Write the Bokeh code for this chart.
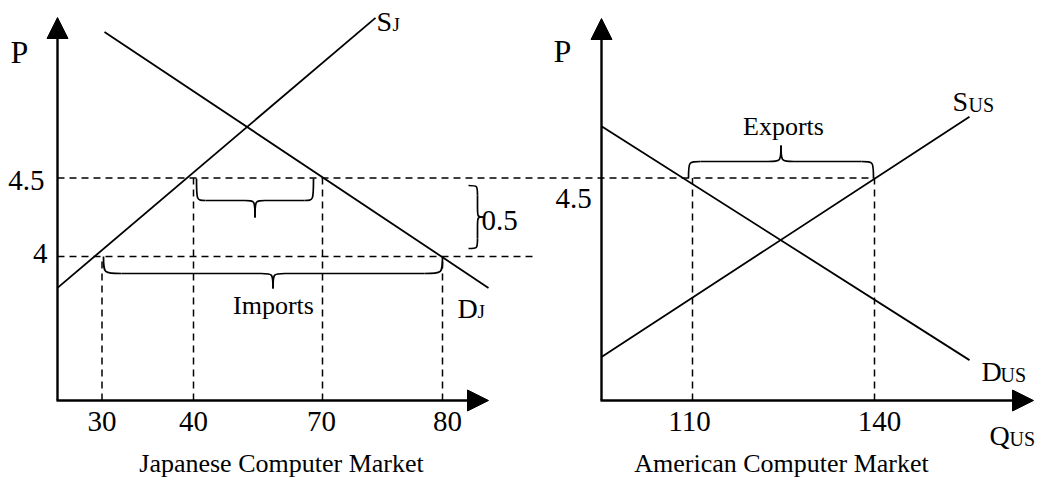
from bokeh.plotting import figure
from bokeh.models import Range1d, Arrow, NormalHead
from bokeh.embed import file_html
from bokeh.resources import INLINE
from bokeh.core.properties import value

# ---------------- data ----------------
jp_quantity_ticks = [30, 40, 70, 80]            # Q_S at 4, Q_S at 4.5, Q_D at 4.5, Q_D at 4
jp_quantity_read_price = [4.0, 4.5, 4.5, 4.0]   # price at which each quantity is read
jp_price_ticks = [4.0, 4.5]
jp_price_labels = ["4", "4.5"]
us_quantity_ticks = [110, 140]                  # Q_D at 4.5, Q_S at 4.5
us_quantity_read_price = [4.5, 4.5]
us_price_ticks = [4.5]
us_price_labels = ["4.5"]
world_price = 4.5
jp_low_price = 4.0
price_gap_label = "0.5"

jp_supply_p = [3.80, 5.52]
jp_demand_p = [5.43, 3.80]
us_supply_p = [3.36, 4.89]
us_demand_p = [4.83, 3.34]

titles = ["Japanese Computer Market", "American Computer Market"]

# ---------------- layout (schematic, not to scale) ----------------
FONT = value("Liberation Serif")
PX_PER_PRICE = 157.0
ROW_AT_45 = 177.5
TEXT_SHIFT = 0.4   # em; compensates the svg baseline placement


def yp(row):
    return 4.5 - (row - ROW_AT_45) / PX_PER_PRICE


def ty(row, size):
    return yp(row - TEXT_SHIFT * size)


JP_QX = [101.5, 193, 322, 442]
US_QX = [692, 874]
JP_AXIS_X, US_AXIS_X = 57, 601
AXIS_ROW = 400
jp_supply_x = [57, 375]
jp_demand_x = [104, 488]
us_supply_x = [601, 969]
us_demand_x = [601, 969]

p = figure(width=1036, height=480, x_range=Range1d(0, 1036),
           y_range=Range1d(yp(480), yp(0)), output_backend="svg",
           toolbar_location=None, min_border=0, x_axis_type=None,
           y_axis_type=None)
p.grid.visible = False
p.outline_line_color = None
p.background_fill_color = "white"
p.border_fill_color = "white"

DASH = "7 5"
axis_bottom = yp(AXIS_ROW)

# dashed price lines
p.segment(x0=[JP_AXIS_X], y0=[world_price], x1=[US_QX[1]], y1=[world_price],
          line_color="black", line_width=1.5, line_dash=DASH)
p.segment(x0=[JP_AXIS_X], y0=[jp_low_price], x1=[537], y1=[jp_low_price],
          line_color="black", line_width=1.5, line_dash=DASH)
# dashed quantity drop lines
p.segment(x0=JP_QX + US_QX, y0=[axis_bottom] * 6, x1=JP_QX + US_QX,
          y1=jp_quantity_read_price + us_quantity_read_price,
          line_color="black", line_width=1.5, line_dash=DASH)

# curves
p.line(jp_supply_x, jp_supply_p, line_color="black", line_width=1.8)
p.line(jp_demand_x, jp_demand_p, line_color="black", line_width=1.8)
p.line(us_supply_x, us_supply_p, line_color="black", line_width=1.8)
p.line(us_demand_x, us_demand_p, line_color="black", line_width=1.8)

# axes with arrow heads
for ax_x, ytip, xtip in [(JP_AXIS_X, 17, 488), (US_AXIS_X, 18, 1033)]:
    p.add_layout(Arrow(end=NormalHead(size=21, fill_color="black", line_color="black"),
                       x_start=ax_x, y_start=axis_bottom, x_end=ax_x, y_end=yp(ytip),
                       line_color="black", line_width=2.4))
    p.add_layout(Arrow(end=NormalHead(size=21, fill_color="black", line_color="black"),
                       x_start=ax_x - 1, y_start=axis_bottom, x_end=xtip, y_end=axis_bottom,
                       line_color="black", line_width=2.4))

# braces
bz = dict(x0=[], y0=[], x1=[], y1=[], cx0=[], cy0=[], cx1=[], cy1=[])
ln = dict(x0=[], y0=[], x1=[], y1=[])


def add_bz(a, b, c):
    bz["x0"].append(a[0]); bz["y0"].append(yp(a[1]))
    bz["x1"].append(b[0]); bz["y1"].append(yp(b[1]))
    bz["cx0"].append(c[0]); bz["cy0"].append(yp(c[1]))
    bz["cx1"].append(c[0]); bz["cy1"].append(yp(c[1]))


def add_ln(a, b):
    ln["x0"].append(a[0]); ln["y0"].append(yp(a[1]))
    ln["x1"].append(b[0]); ln["y1"].append(yp(b[1]))


def hbrace(xa, xb, r_open, r_mid, r_tip, re, rt):
    xc = (xa + xb) / 2
    add_bz((xa, r_open), (xa + re, r_mid), (xa, r_mid))
    add_ln((xa + re, r_mid), (xc - rt, r_mid))
    add_bz((xc - rt, r_mid), (xc, r_tip), (xc, r_mid))
    add_bz((xc + rt, r_mid), (xc, r_tip), (xc, r_mid))
    add_ln((xc + rt, r_mid), (xb - re, r_mid))
    add_bz((xb, r_open), (xb - re, r_mid), (xb, r_mid))


def vbrace(ra, rb, c_open, c_mid, c_tip, re, rt):
    rc = (ra + rb) / 2
    add_bz((c_open, ra), (c_mid, ra + re), (c_mid, ra))
    add_ln((c_mid, ra + re), (c_mid, rc - rt))
    add_bz((c_mid, rc - rt), (c_tip, rc), (c_mid, rc))
    add_bz((c_mid, rc + rt), (c_tip, rc), (c_mid, rc))
    add_ln((c_mid, rc + rt), (c_mid, rb - re))
    add_bz((c_open, rb), (c_mid, rb - re), (c_mid, rb))


hbrace(JP_QX[1] + 3, JP_QX[2] - 9, 178, 200, 217, 9, 10)
hbrace(JP_QX[0] + 1.5, JP_QX[3], 256, 273, 288, 18, 12)
hbrace(US_QX[0] - 4, US_QX[1] - 1, 178, 161, 145, 12, 13)
vbrace(185, 248, 468, 477, 483, 10, 10)

p.bezier(**bz, line_color="black", line_width=1.7)
p.segment(**ln, line_color="black", line_width=1.7)


def txt(x, row, s, size, align="left"):
    p.text(x=[x], y=[ty(row, size)], text=[s], text_font=FONT,
           text_font_size=f"{size}px", text_align=align,
           text_baseline="alphabetic", text_color="black")


# tick labels
JP_QLABEL_DX = [0, 0, -1, 5]
US_QLABEL_DX = [-3, 5]
p.text(x=[q + d for q, d in zip(JP_QX, JP_QLABEL_DX)], y=[ty(433, 29)] * 4,
       text=[str(q) for q in jp_quantity_ticks], text_font=FONT,
       text_font_size="29px", text_align="center", text_baseline="alphabetic",
       text_color="black")
p.text(x=[q + d for q, d in zip(US_QX, US_QLABEL_DX)], y=[ty(433, 29)] * 2,
       text=[str(q) for q in us_quantity_ticks], text_font=FONT,
       text_font_size="29px", text_align="center", text_baseline="alphabetic",
       text_color="black")
JP_PLABEL_RIGHT = [47, 44]
JP_PLABEL_DROP = [9, 14.5]
p.text(x=JP_PLABEL_RIGHT,
       y=[pr - (d - TEXT_SHIFT * 29) / PX_PER_PRICE
          for pr, d in zip(jp_price_ticks, JP_PLABEL_DROP)],
       text=jp_price_labels, text_font=FONT, text_font_size="29px",
       text_align="right", text_baseline="alphabetic", text_color="black")
p.text(x=[555], y=[us_price_ticks[0] - (32.5 - TEXT_SHIFT * 29) / PX_PER_PRICE],
       text=us_price_labels, text_font=FONT, text_font_size="29px",
       text_align="left", text_baseline="alphabetic", text_color="black")

# axis names and curve labels
txt(10, 64, "P", 32)
txt(553, 63, "P", 32)
txt(376, 32, "S", 28)
txt(392, 32, "J", 19)
txt(457, 319, "D", 28)
txt(477, 319, "J", 19)
txt(952, 112, "S", 28)
txt(968, 112, "US", 20)
txt(981, 382, "D", 28)
txt(1000, 382, "US", 20)
txt(989, 446, "Q", 28)
txt(1009, 446, "US", 20)

txt(273, 315, "Imports", 26, "center")
txt(783, 136, "Exports", 26, "center")
txt(481, 232, price_gap_label, 29)

txt(281, 473, titles[0], 26, "center")
txt(781, 473, titles[1], 26, "center")

open("out.html", "w").write(file_html(p, INLINE))
